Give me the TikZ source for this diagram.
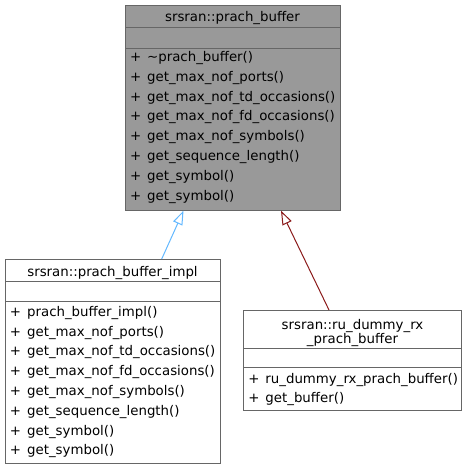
\documentclass[tikz,border=0pt]{standalone}
\usepackage{fontspec}
\setmainfont{DejaVu Sans}
\usetikzlibrary{arrows.meta}
\definecolor{boxgray}{HTML}{999999}
\definecolor{edgegray}{HTML}{666666}
\definecolor{inhblue}{HTML}{63B8FF}
\definecolor{inhred}{HTML}{8B1A1A}
\tikzset{
  every node/.style={font=\fontsize{10}{12}\selectfont, inner sep=0pt, outer sep=0pt},
  classbox/.style={draw=edgegray, line width=0.75pt},
  sepline/.style={draw=edgegray, line width=0.75pt},
  member/.style={anchor=base west},
  ctitle/.style={anchor=base},
  inh/.style={line width=0.75pt, -{Triangle[open, length=10.5pt, width=7.5pt, fill=white]}},
}
\newcommand{\mb}[1]{+\hspace{4.5pt}#1}
\begin{document}
\begin{tikzpicture}[x=0.75pt, y=-0.75pt]
\useasboundingbox (0,0) rectangle (467,469);
% ---- base class
\path[classbox, fill=boxgray] (125,5) rectangle (340,210.7);
\node[ctitle] (basetitle) at (232.5,21.5) {srsran::prach\_buffer};
\draw[sepline] (125,27) -- (340,27);
\draw[sepline] (125,48) -- (340,48);
\node[member] (b1) at (130,61.5) {\mb{\char"7Eprach\_buffer()}};
\node[member] (b2) at (130,81.3) {\mb{get\_max\_nof\_ports()}};
\node[member] (b3) at (130,101.1) {\mb{get\_max\_nof\_td\_occasions()}};
\node[member] (b4) at (130,120.9) {\mb{get\_max\_nof\_fd\_occasions()}};
\node[member] (b5) at (130,140.7) {\mb{get\_max\_nof\_symbols()}};
\node[member] (b6) at (130,160.5) {\mb{get\_sequence\_length()}};
\node[member] (b7) at (130,180.3) {\mb{get\_symbol()}};
\node[member] (b8) at (130,200.1) {\mb{get\_symbol()}};
% ---- impl class
\path[classbox, fill=white] (5,259) rectangle (220,463);
\node[ctitle] (impltitle) at (112.5,276) {srsran::prach\_buffer\_impl};
\draw[sepline] (5,281) -- (220,281);
\draw[sepline] (5,301) -- (220,301);
\node[member] (i1) at (10,316.3) {\mb{prach\_buffer\_impl()}};
\node[member] (i2) at (10,336.1) {\mb{get\_max\_nof\_ports()}};
\node[member] (i3) at (10,355.9) {\mb{get\_max\_nof\_td\_occasions()}};
\node[member] (i4) at (10,375.7) {\mb{get\_max\_nof\_fd\_occasions()}};
\node[member] (i5) at (10,395.5) {\mb{get\_max\_nof\_symbols()}};
\node[member] (i6) at (10,415.3) {\mb{get\_sequence\_length()}};
\node[member] (i7) at (10,435.1) {\mb{get\_symbol()}};
\node[member] (i8) at (10,454.9) {\mb{get\_symbol()}};
% ---- dummy class
\path[classbox, fill=white] (243.3,310) rectangle (461.7,410.7);
\node[ctitle] (dt1) at (352.5,329) {srsran::ru\_dummy\_rx};
\node[ctitle] (dt2) at (352.5,343.3) {\_prach\_buffer};
\draw[sepline] (243.3,348.3) -- (461.7,348.3);
\draw[sepline] (243.3,367.7) -- (461.7,367.7);
\node[member] (d1) at (248.3,383.3) {\mb{ru\_dummy\_rx\_prach\_buffer()}};
\node[member] (d2) at (248.3,402.8) {\mb{get\_buffer()}};
% ---- inheritance
\coordinate (implTop) at (161.7,259);
\coordinate (baseBotL) at (183.5,210.7);
\coordinate (dummyTop) at (329,310);
\coordinate (baseBotR) at (281,210.7);
\draw[inh, draw=inhblue] (implTop) -- (baseBotL);
\draw[inh, draw=inhred] (dummyTop) -- (baseBotR);
\end{tikzpicture}
\end{document}
